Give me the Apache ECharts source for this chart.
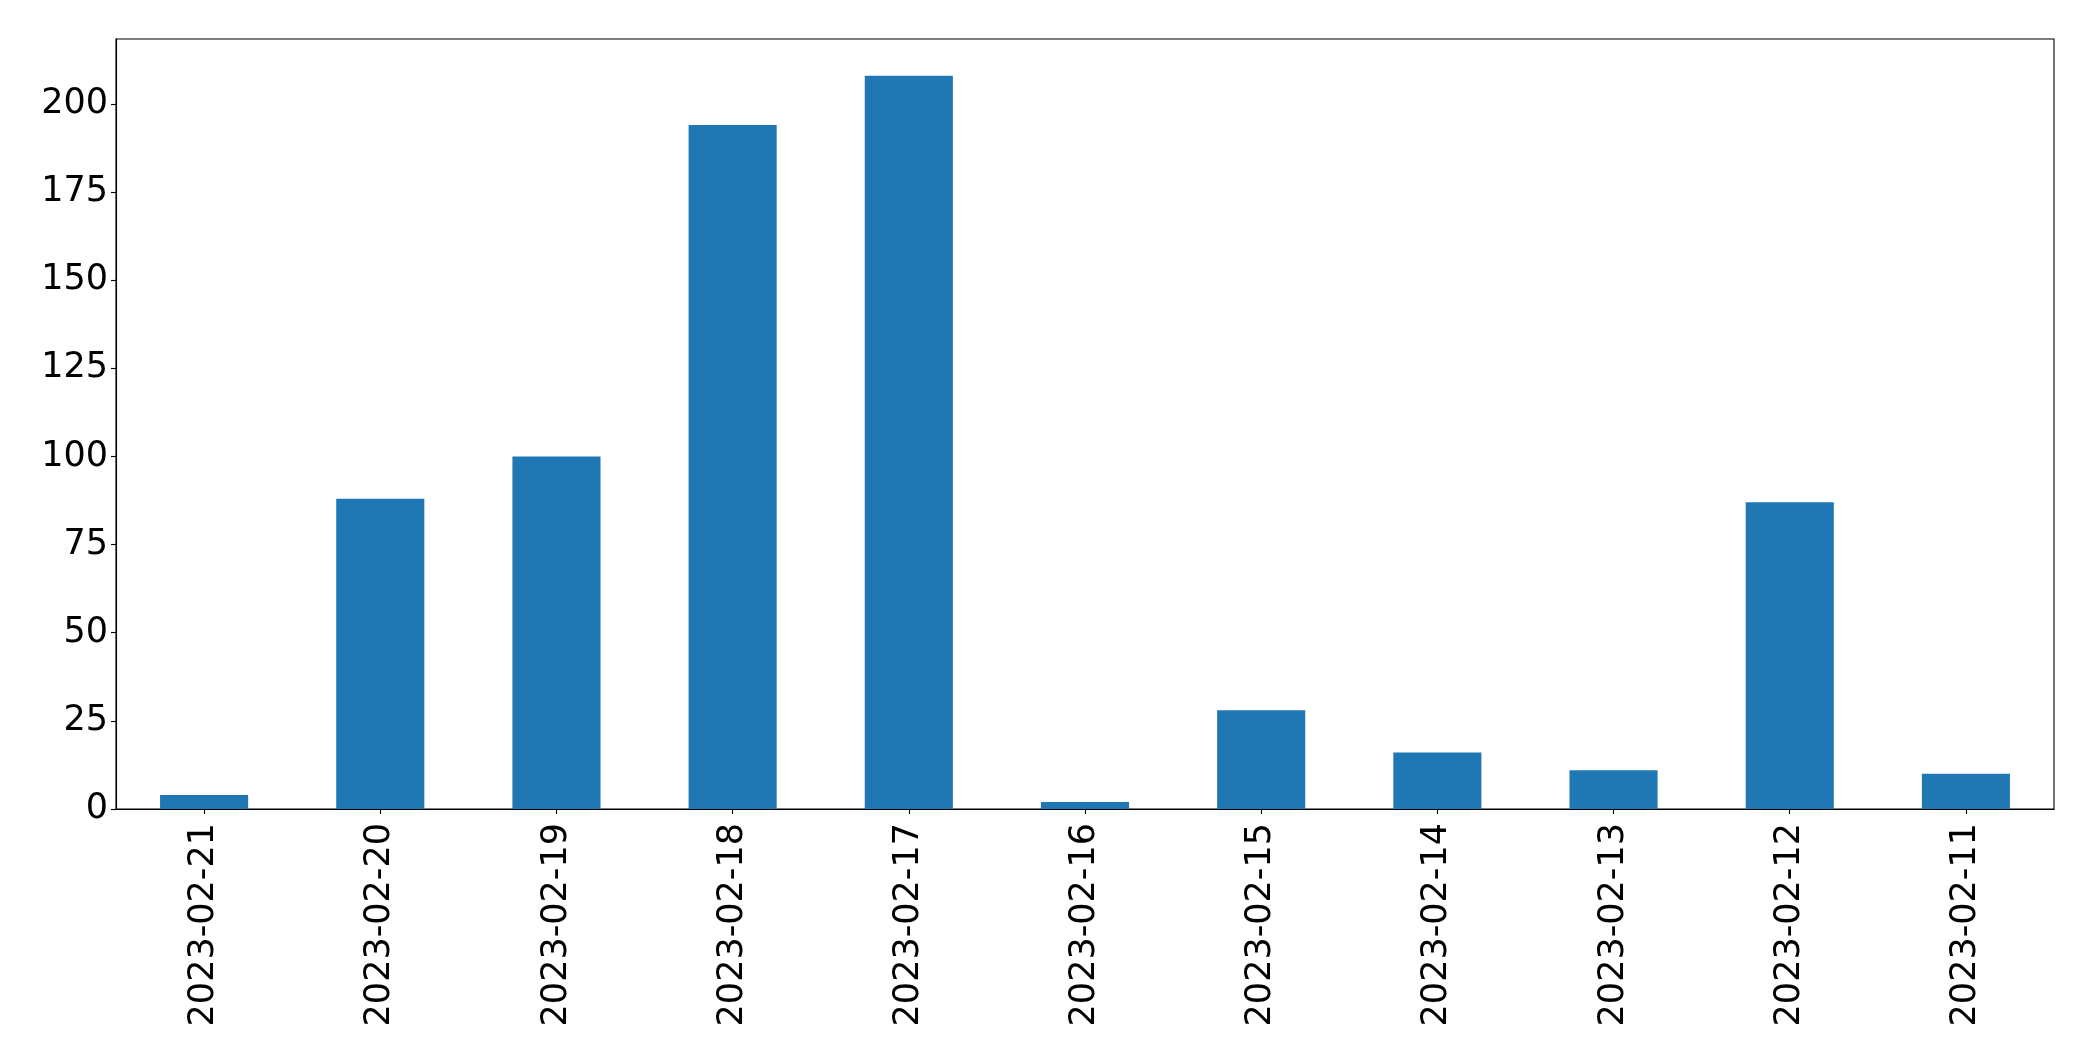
<!DOCTYPE html>
<html>
<head>
<meta charset="utf-8">
<script src="https://cdn.jsdelivr.net/npm/echarts@6/dist/echarts.min.js"></script>
<style>
  html, body { margin: 0; padding: 0; background: #fff; }
  #chart { width: 2093px; height: 1061px; }
</style>
</head>
<body>
<div id="chart"></div>
<script>
const categories = ['2023-02-21', '2023-02-20', '2023-02-19', '2023-02-18', '2023-02-17', '2023-02-16', '2023-02-15', '2023-02-14', '2023-02-13', '2023-02-12', '2023-02-11'];
const values = [4, 88, 100, 194, 208, 2, 28, 16, 11, 87, 10];
const yTicks = [0, 25, 50, 75, 100, 125, 150, 175, 200];

const chart = echarts.init(document.getElementById('chart'), null, { renderer: 'canvas' });
const font = 'DejaVu Sans';
chart.setOption({
  animation: false,
  backgroundColor: '#ffffff',
  grid: {
    left: 116, right: 39, top: 39, bottom: 252,
    show: true, borderColor: '#000000', borderWidth: 1.1, backgroundColor: 'transparent'
  },
  xAxis: {
    type: 'category',
    data: categories,
    boundaryGap: true,
    axisLine: { show: true, lineStyle: { color: '#000', width: 1.1 } },
    axisTick: { show: true, alignWithLabel: true, length: 5, lineStyle: { color: '#000', width: 1.1 } },
    axisLabel: { rotate: 90, fontSize: 35, fontFamily: font, color: '#000', margin: 14, interval: 0 },
    splitLine: { show: false }
  },
  yAxis: {
    type: 'value',
    min: 0,
    max: 218.4,
    interval: 25,
    axisLine: { show: true, lineStyle: { color: '#000', width: 1.1 } },
    axisTick: { show: true, length: 5, lineStyle: { color: '#000', width: 1.1 }, customValues: yTicks },
    axisLabel: { fontSize: 35, fontFamily: font, color: '#000', margin: 8, customValues: yTicks },
    splitLine: { show: false }
  },
  series: [{
    type: 'bar',
    data: values,
    barWidth: '50%',
    itemStyle: { color: '#1f77b4' }
  }]
});
</script>
</body>
</html>
